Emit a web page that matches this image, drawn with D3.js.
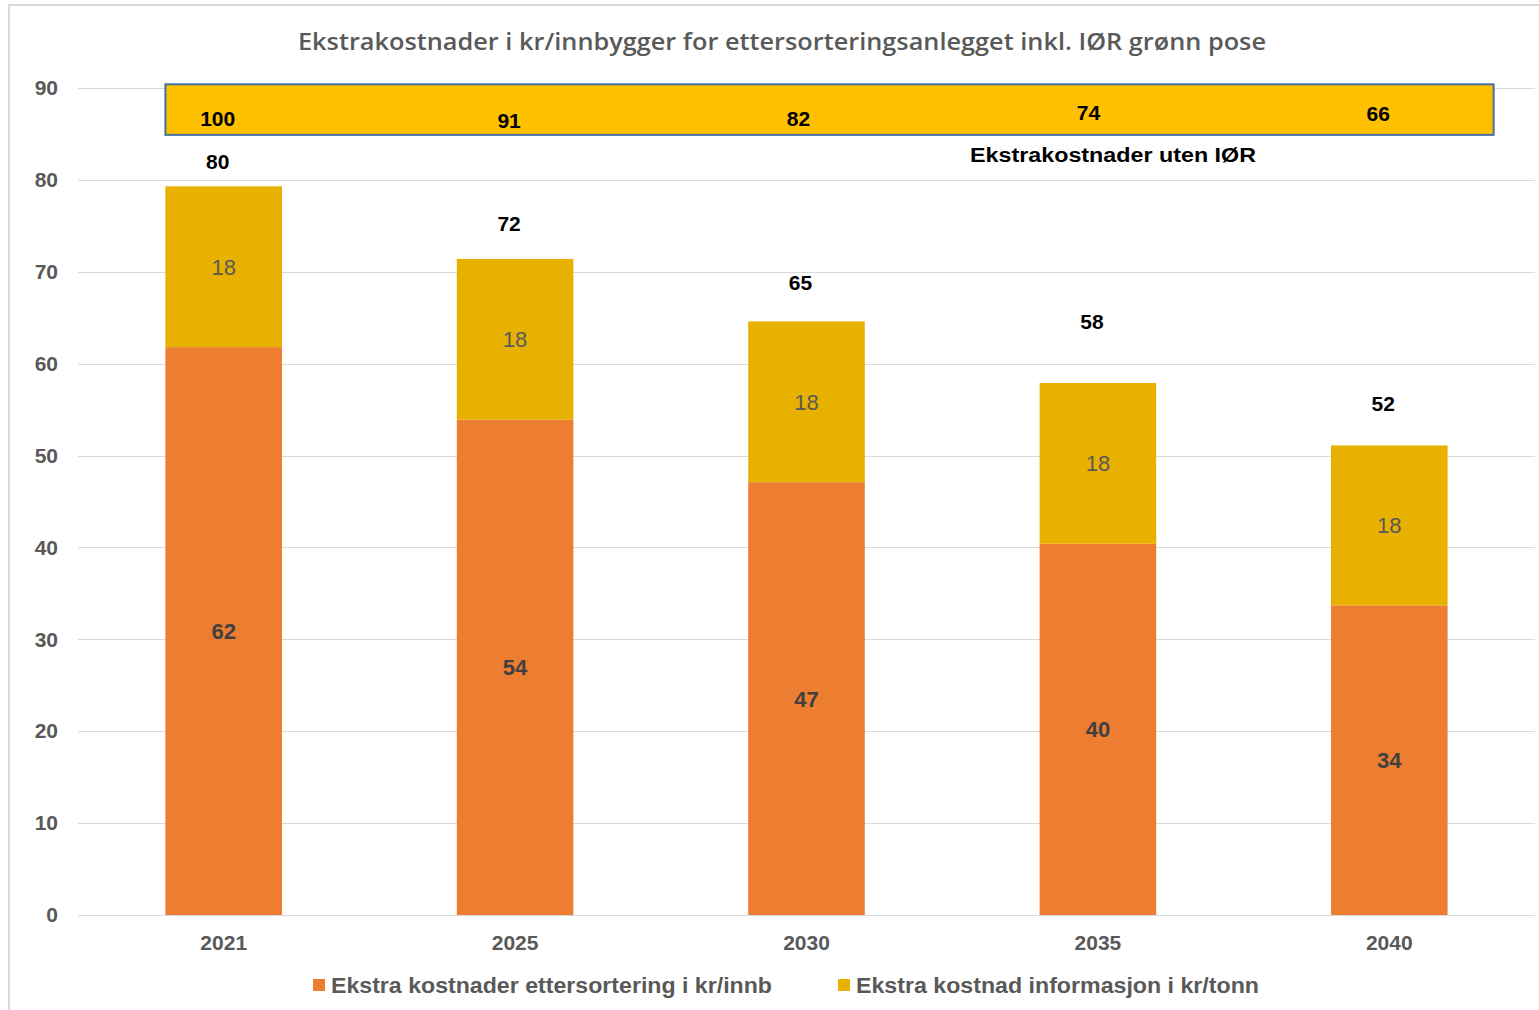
<!DOCTYPE html>
<html><head><meta charset="utf-8">
<script src="https://cdn.jsdelivr.net/npm/d3@7"></script>
<style>
html,body{margin:0;padding:0;background:#fff;}
svg{display:block;}
</style></head>
<body>
<svg id="c" width="1539" height="1010"></svg>
<script>
const years = ["2021","2025","2030","2035","2040"];
const ettersortering = [61.8, 53.9, 47.1, 40.4, 33.7];
const informasjon = [17.5, 17.5, 17.5, 17.5, 17.4];
const ettersorteringLabels = ["62","54","47","40","34"];
const informasjonLabels = ["18","18","18","18","18"];
const totalLabels = ["80","72","65","58","52"];
const utenIorLabels = ["100","91","82","74","66"];
const yTicks = [0,10,20,30,40,50,60,70,80,90];
const seriesNames = ["Ekstra kostnader ettersortering i kr/innb","Ekstra kostnad informasjon i kr/tonn"];
const titleText = "Ekstrakostnader i kr/innbygger for ettersorteringsanlegget inkl. IØR grønn pose";
const boxCaption = "Ekstrakostnader uten IØR";

// layout (manually placed label boxes in the original)
const totalLabelLift = [17, 28, 31, 54, 34];
const boxLabelShift = [0, -2, 0, 6, 5];

const colOrange = "#ED7D31", colYellow = "#E8B100", colBox = "#FFC000";
const svg = d3.select("#c");
const font = "'Liberation Sans', Arial, sans-serif";

// frame
svg.append("line").attr("x1",9).attr("x2",1539).attr("y1",5).attr("y2",5).attr("stroke","#d9d9d9").attr("stroke-width",2);
svg.append("line").attr("x1",9).attr("x2",9).attr("y1",4).attr("y2",1010).attr("stroke","#d9d9d9").attr("stroke-width",2);

const x = d3.scaleBand().domain(years).range([78,1535]).paddingInner(0.6).paddingOuter(0.3);
const y = d3.scaleLinear().domain([0,90]).range([915,88]);

// title
svg.append("text").attr("x",782).attr("y",50).attr("text-anchor","middle")
  .attr("font-family","'Open Sans', sans-serif").attr("font-weight",600).attr("font-size",23)
  .attr("fill","#595959").attr("textLength",968).attr("lengthAdjust","spacingAndGlyphs").text(titleText);

// grid
svg.append("g").selectAll("line").data(yTicks).join("line")
  .attr("x1",78).attr("x2",1535).attr("y1",d=>Math.round(y(d))+0.5).attr("y2",d=>Math.round(y(d))+0.5)
  .attr("stroke","#d9d9d9").attr("stroke-width",1);

// y axis labels
const yAxis = d3.axisLeft(y).tickValues(yTicks).tickSize(0).tickPadding(0);
const ga = svg.append("g").attr("transform","translate(58,0)").call(yAxis);
ga.select(".domain").remove();
ga.selectAll("text").attr("font-family",font).attr("font-weight","bold").attr("font-size",21).attr("fill","#595959");

// x axis labels
const xAxis = d3.axisBottom(x).tickSize(0).tickPadding(0);
const gx = svg.append("g").attr("transform","translate(0,935)").call(xAxis);
gx.select(".domain").remove();
gx.selectAll("text").attr("font-family",font).attr("font-weight","bold").attr("font-size",21).attr("fill","#595959");

// bars
const data = years.map((yr,i)=>({yr, a:ettersortering[i], b:informasjon[i], i}));
svg.append("g").selectAll("rect").data(data).join("rect")
  .attr("x",d=>x(d.yr)).attr("width",x.bandwidth())
  .attr("y",d=>y(d.a)).attr("height",d=>y(0)-y(d.a)).attr("fill",colOrange);
svg.append("g").selectAll("rect").data(data).join("rect")
  .attr("x",d=>x(d.yr)).attr("width",x.bandwidth())
  .attr("y",d=>y(d.a+d.b)).attr("height",d=>y(d.a)-y(d.a+d.b)).attr("fill",colYellow);

// segment labels
svg.append("g").selectAll("text").data(data).join("text")
  .attr("x",d=>x(d.yr)+x.bandwidth()/2).attr("y",d=>(y(0)+y(d.a))/2+8).attr("text-anchor","middle")
  .attr("font-family",font).attr("font-weight","bold").attr("font-size",22).attr("fill","#404040")
  .text(d=>ettersorteringLabels[d.i]);
svg.append("g").selectAll("text").data(data).join("text")
  .attr("x",d=>x(d.yr)+x.bandwidth()/2).attr("y",d=>(y(d.a)+y(d.a+d.b))/2+8).attr("text-anchor","middle")
  .attr("font-family",font).attr("font-size",22).attr("fill","#595959")
  .text(d=>informasjonLabels[d.i]);

// totals
svg.append("g").selectAll("text").data(data).join("text")
  .attr("x",d=>x(d.yr)+x.bandwidth()/2-6).attr("y",d=>y(d.a+d.b)-totalLabelLift[d.i]).attr("text-anchor","middle")
  .attr("font-family",font).attr("font-weight","bold").attr("font-size",21).attr("fill","#000")
  .text(d=>totalLabels[d.i]);

// box "uten IØR"
const step = x.step();
const boxL = x(years[0]), boxR = x(years[years.length-1]) + x.bandwidth() + 0.158*step;
svg.append("rect").attr("x",boxL).attr("y",y(90.4)).attr("width",boxR-boxL).attr("height",y(84.9)-y(90.4))
  .attr("fill",colBox).attr("stroke","#41719C").attr("stroke-width",2);
svg.append("g").selectAll("text").data(data).join("text")
  .attr("x",d=>x(d.yr)+x.bandwidth()/2-6-(d.i>=2?2+ (d.i-2)*1.5:0)).attr("y",d=>y(85.9)-boxLabelShift[d.i]).attr("text-anchor","middle")
  .attr("font-family",font).attr("font-weight","bold").attr("font-size",21).attr("fill","#000")
  .text(d=>utenIorLabels[d.i]);
svg.append("text").attr("x",1113).attr("y",162).attr("text-anchor","middle")
  .attr("font-family",font).attr("font-weight","bold").attr("font-size",20).attr("fill","#000")
  .attr("textLength",286).attr("lengthAdjust","spacingAndGlyphs").text(boxCaption);

// legend
const legend = [{c:colOrange, t:seriesNames[0], x:313, w:441},{c:colYellow, t:seriesNames[1], x:838, w:403}];
const lg = svg.append("g").selectAll("g").data(legend).join("g");
lg.append("rect").attr("x",d=>d.x).attr("y",979).attr("width",12).attr("height",12).attr("fill",d=>d.c);
lg.append("text").attr("x",d=>d.x+18).attr("y",993)
  .attr("font-family",font).attr("font-weight","bold").attr("font-size",22).attr("fill","#595959")
  .attr("textLength",d=>d.w).attr("lengthAdjust","spacingAndGlyphs").text(d=>d.t);
</script>
</body></html>
